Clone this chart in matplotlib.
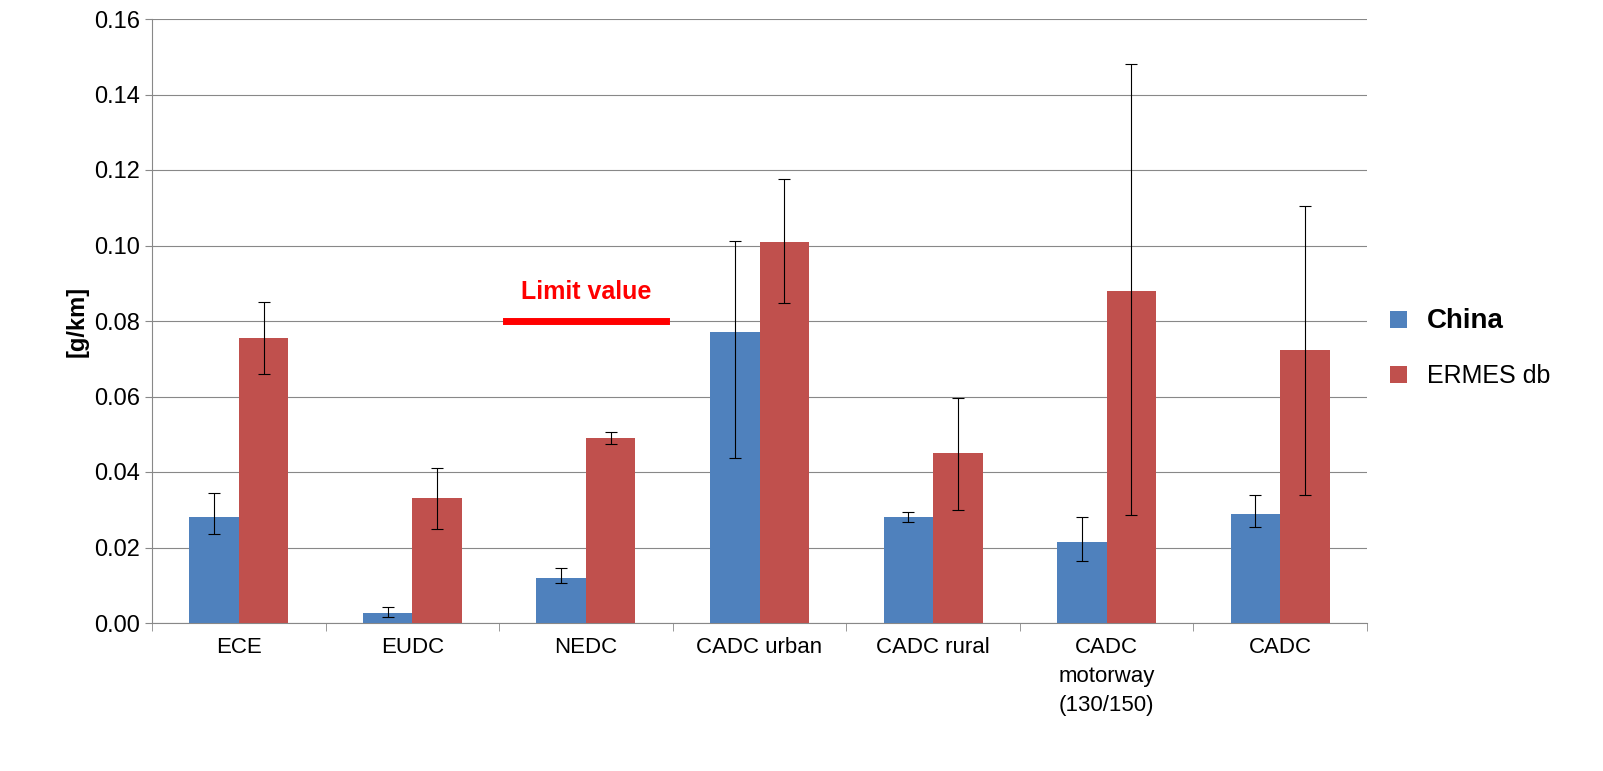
import matplotlib
matplotlib.use("Agg")
import matplotlib.pyplot as plt
import numpy as np

plt.rcParams['font.family'] = ['Liberation Sans', 'DejaVu Sans']

categories = ["ECE", "EUDC", "NEDC", "CADC urban", "CADC rural", "CADC\nmotorway\n(130/150)", "CADC"]
china = [0.028, 0.0027, 0.012, 0.077, 0.028, 0.0215, 0.029]
china_lo = [0.0235, 0.0017, 0.0105, 0.0437, 0.0268, 0.0165, 0.0253]
china_hi = [0.0345, 0.0043, 0.0145, 0.1012, 0.0293, 0.028, 0.034]
ermes = [0.0755, 0.033, 0.049, 0.101, 0.045, 0.088, 0.0723]
ermes_lo = [0.066, 0.025, 0.0475, 0.0847, 0.030, 0.0285, 0.034]
ermes_hi = [0.085, 0.041, 0.0505, 0.1175, 0.0595, 0.148, 0.1105]
limit_value = 0.08
limit_cat = 2

fig = plt.figure(figsize=(16.03, 7.71), dpi=100)
ax = fig.add_axes([152/1603, 1-623/771, (1367-152)/1603, (623-19)/771])
x = np.arange(len(categories))
w = 0.285
c1, c2 = "#4F81BD", "#C0504D"
ce = np.array([np.array(china)-np.array(china_lo), np.array(china_hi)-np.array(china)])
ee = np.array([np.array(ermes)-np.array(ermes_lo), np.array(ermes_hi)-np.array(ermes)])
ax.bar(x-w/2, china, w, color=c1, yerr=ce, capsize=4, error_kw=dict(lw=0.8, capthick=0.8), label="China", zorder=3)
ax.bar(x+w/2, ermes, w, color=c2, yerr=ee, capsize=4, error_kw=dict(lw=0.8, capthick=0.8), label="ERMES db", zorder=3)
ax.plot([limit_cat-0.46, limit_cat+0.46], [limit_value]*2, color="red", lw=5, zorder=4)
ax.text(limit_cat, limit_value+0.0045, "Limit value", color="red", fontsize=18, fontweight="bold", ha="center", va="bottom")

ax.set_xlim(-0.5, len(categories)-0.5)
ax.set_ylim(0, 0.16)
ax.set_yticks(np.arange(0, 0.161, 0.02))
ax.set_yticklabels([f"{v:.2f}" for v in np.arange(0, 0.161, 0.02)], fontsize=17)
ax.set_xticks(np.arange(-0.5, len(categories)), minor=True)
ax.set_xticks(x)
ax.set_xticklabels(categories, fontsize=16, linespacing=1.5)
ax.tick_params(axis="x", which="major", length=0, pad=10)
ax.tick_params(axis="x", which="minor", length=6, color="#888888")
ax.tick_params(axis="y", length=5, color="#888888")
ax.grid(axis="y", color="#888888", lw=0.8, zorder=0)
for s in ["top", "right"]:
    ax.spines[s].set_visible(False)
for s in ["left", "bottom"]:
    ax.spines[s].set_color("#888888")
ax.set_ylabel("[g/km]", fontsize=17, fontweight="bold")
leg = ax.legend(loc="center left", bbox_to_anchor=(1.0, 0.455), frameon=False, fontsize=18, handlelength=0.7, handleheight=0.7, labelspacing=1.2)
leg.get_texts()[0].set_fontweight("bold")
leg.get_texts()[0].set_fontsize(20)
fig.savefig("out.png", dpi=100)
